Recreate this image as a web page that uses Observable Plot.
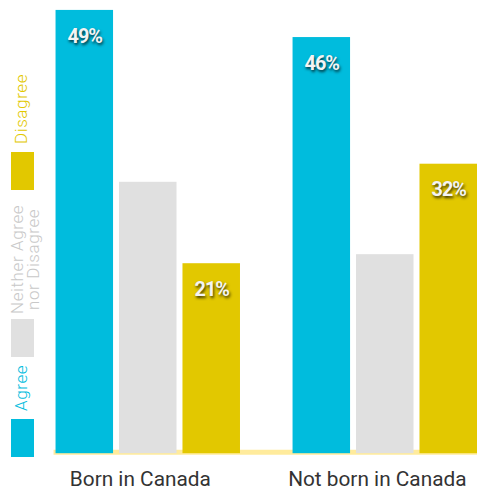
<!DOCTYPE html>
<html>
<head>
<meta charset="utf-8">
<script src="https://cdn.jsdelivr.net/npm/d3@7"></script>
<script src="https://cdn.jsdelivr.net/npm/@observablehq/plot@0.6"></script>
<style>
  html, body { margin: 0; padding: 0; background: #fff; overflow: hidden; }
  #wrap { position: relative; width: 477px; height: 495px; overflow: hidden; }
  #chart svg { display: block; }
  .barlabel text { text-shadow: 1px 2px 3px rgba(0,0,0,0.75); letter-spacing: -1px; }
  .leg { position: absolute; font-family: Roboto, "Noto Sans", sans-serif; font-weight: 300; font-size: 17px; line-height: 16px;
         letter-spacing: 0.6px; writing-mode: vertical-rl; transform: rotate(180deg); text-align: center; height: 140px; white-space: nowrap; }
  .sw { position: absolute; width: 23px; height: 38px; left: 11px; }
</style>
</head>
<body>
<div id="wrap">
  <div id="chart"></div>
  <div id="legend"></div>
</div>
<script>
const groups = ["Born in Canada", "Not born in Canada"];
const responses = ["Agree", "Neither Agree nor Disagree", "Disagree"];
const agree = [49, 46];
const neither = [30, 22];
const disagree = [21, 32];
const colors = ["#00bcdd", "#e0e0e0", "#e2c800"];
const legendText = ["Agree", "Neither Agree<br>nor Disagree", "Disagree"];
const legendTextColors = ["#00bcdd", "#c8c8c8", "#e2c800"];

const series = [agree, neither, disagree];
const data = [];
groups.forEach((g, gi) => {
  responses.forEach((r, ri) => {
    data.push({group: g, response: r, value: series[ri][gi]});
  });
});
const labeled = data.filter(d => d.response !== "Neither Agree nor Disagree");

const chart = Plot.plot({
  width: 481,
  height: 495,
  marginLeft: 56,
  marginRight: 0,
  marginTop: 10,
  marginBottom: 38,
  style: {fontFamily: "Roboto, sans-serif", background: "#fff"},
  fx: {domain: groups, paddingInner: 0.2218, paddingOuter: 0, round: false, axis: "bottom", tickSize: 0, tickPadding: 18, label: null},
  x: {domain: responses, paddingInner: 0.094, paddingOuter: 0, round: false, axis: null},
  y: {domain: [0, 49], axis: null},
  color: {domain: responses, range: colors},
  marks: [
    Plot.frame({anchor: "bottom", stroke: "#ffeb9c", strokeWidth: 5, dy: -1.5, facet: "super"}),
    Plot.barY(data, {fx: "group", x: "response", y: "value", fill: "response"}),
    Plot.text(labeled, {fx: "group", x: "response", y: "value", text: d => d.value + "%", dy: 26,
      fill: "#f4f4f4", fontWeight: "bold", fontSize: 20, className: "barlabel",
      fontFamily: "Roboto, sans-serif"})
  ]
});
document.getElementById("chart").appendChild(chart);
// axis label styling
chart.querySelectorAll('g[aria-label^="fx-axis"] text').forEach(t => {
  t.style.fontSize = "21px"; t.setAttribute("fill", "#333"); t.setAttribute("dx", "-8");
});

// legend
const legend = document.getElementById("legend");
const swTops = [419, 319, 152];
const textCenters = [388, 259, 109];
const textLefts = [13, 9, 13];
responses.forEach((r, i) => {
  const sw = document.createElement("div");
  sw.className = "sw";
  sw.style.top = swTops[i] + "px";
  sw.style.background = colors[i];
  legend.appendChild(sw);
  const t = document.createElement("div");
  t.className = "leg";
  t.innerHTML = legendText[i];
  t.style.color = legendTextColors[i];
  t.style.top = (textCenters[i] - 70) + "px";
  t.style.left = textLefts[i] + "px";
  legend.appendChild(t);
});
</script>
</body>
</html>
